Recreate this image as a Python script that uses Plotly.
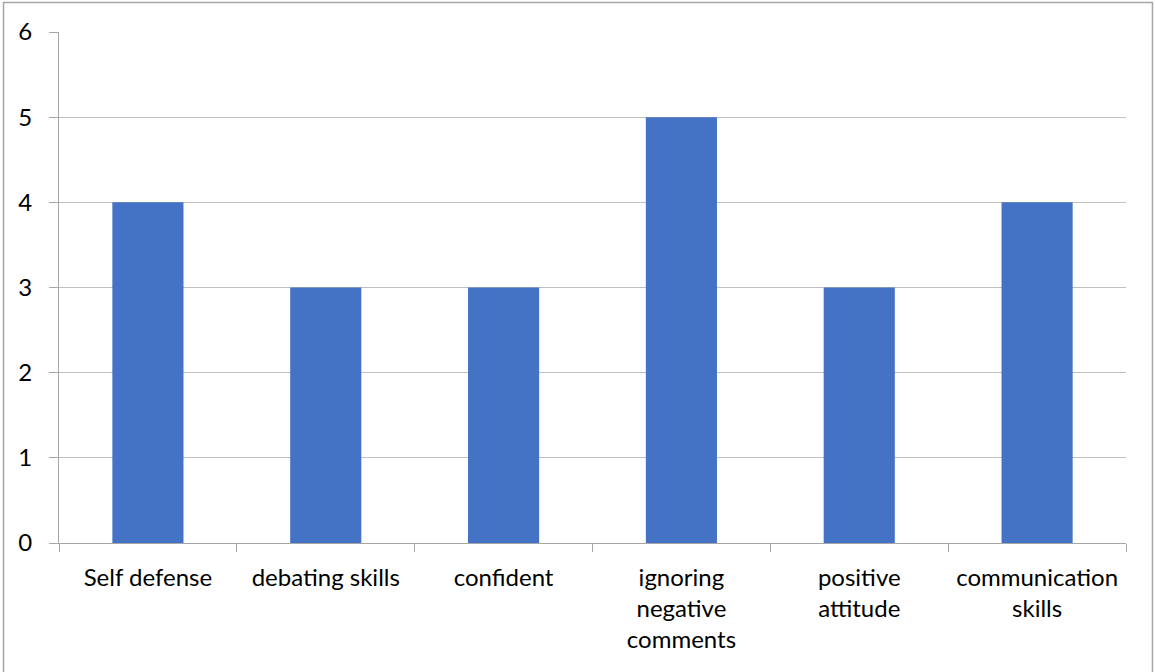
import plotly.graph_objects as go

categories = ["Self defense", "debating skills", "confident",
              "ignoring<br>negative<br>comments", "positive<br>attitude",
              "communication<br>skills"]
values = [4, 3, 3, 5, 3, 4]

bar_color = "#4472C4"
grid_color = "#BFBFBF"
axis_color = "#A6A6A6"
font_family = "Lato, 'Open Sans', sans-serif"

fig = go.Figure(go.Bar(
    x=categories,
    y=values,
    marker=dict(color=bar_color, line=dict(width=0)),
    width=0.4,
))

fig.update_layout(
    width=1155,
    height=672,
    margin=dict(l=59, r=29, t=32, b=129),
    paper_bgcolor="white",
    plot_bgcolor="white",
    showlegend=False,
    font=dict(family=font_family, size=24, color="#000000"),
    shapes=[dict(
        type="rect", xref="paper", yref="paper",
        x0=-0.052, x1=1.0248, y0=-0.26, y1=1.0577,
        line=dict(color="#A6A6A6", width=1.5),
        fillcolor="rgba(0,0,0,0)", layer="below",
    )],
)

fig.update_xaxes(
    type="category",
    showline=True, linecolor=axis_color, linewidth=1,
    ticks="outside", tickson="boundaries", ticklen=8,
    tickcolor=axis_color, tickwidth=1,
    showgrid=False,
    tickfont=dict(size=24),
    ticklabelstandoff=13,
)

fig.update_yaxes(
    range=[0, 6], dtick=1,
    showline=True, linecolor=axis_color, linewidth=1,
    showgrid=True, gridcolor=grid_color, gridwidth=1,
    ticks="outside", ticklen=9, tickcolor=axis_color, tickwidth=1,
    zeroline=False,
    tickfont=dict(size=24),
    ticklabelstandoff=12,
)

fig.write_html("out.html")
